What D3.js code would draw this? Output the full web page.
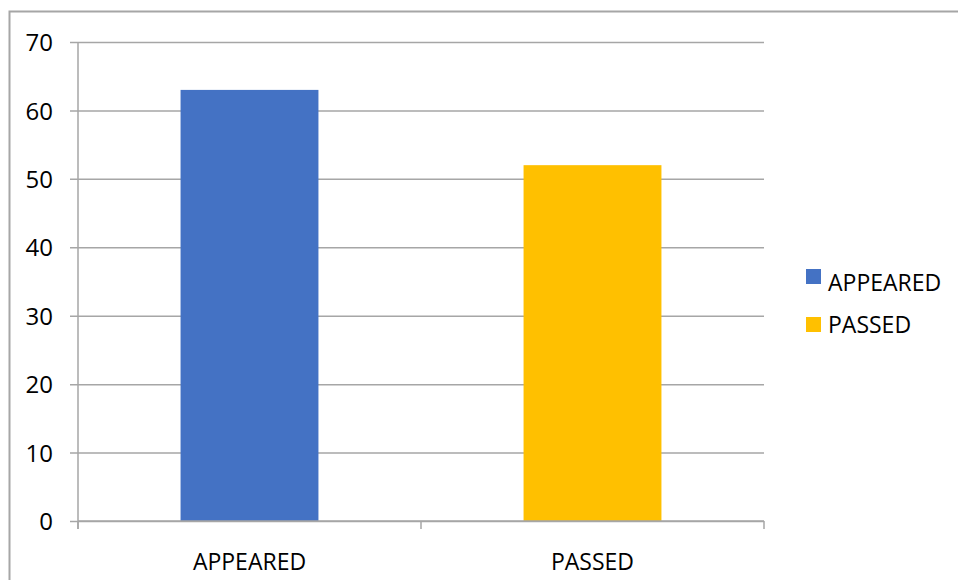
<!DOCTYPE html>
<html>
<head>
<meta charset="utf-8">
<script src="https://cdn.jsdelivr.net/npm/d3@7"></script>
<style>
  body { margin: 0; background: #fff; }
  svg { display: block; }
  text { font-family: 'Open Sans', 'Liberation Sans', sans-serif; fill: #000; }
</style>
</head>
<body>
<script>
// chart values
const categories = ['APPEARED', 'PASSED']
const values = [63, 52]
const colors = ['#4472c4', '#ffc000']
const yTicks = [0, 10, 20, 30, 40, 50, 60, 70]

const w = 958
const h = 580
const plotLeft = 78
const plotRight = 764
const plotTop = 42
const plotBottom = 521
const grey = '#a6a6a6'

const svg = d3.select('body').append('svg')
  .attr('width', w)
  .attr('height', h)

// outer frame (runs off the right and bottom edge)
svg.append('rect')
  .attr('x', 9.5)
  .attr('y', 11.5)
  .attr('width', w)
  .attr('height', h)
  .attr('fill', 'none')
  .attr('stroke', grey)
  .attr('stroke-width', 2)

const yScale = d3.scaleLinear()
  .domain([0, 70])
  .range([plotBottom, plotTop])

// category slots, used for tick boundaries and labels
const xSlots = d3.scaleBand()
  .domain(categories)
  .range([plotLeft, plotRight])

// bars are narrower than the slot
const xBars = d3.scaleBand()
  .domain(categories)
  .range([plotLeft, plotRight])
  .paddingInner(0.598)
  .paddingOuter(0.299)

// gridlines + y ticks
const yAxis = d3.axisLeft(yScale)
  .tickValues(yTicks)
  .tickSize(-(plotRight - plotLeft))
  .tickPadding(0)
  .tickFormat(d3.format('d'))

const gy = svg.append('g')
  .attr('transform', 'translate(' + plotLeft + ',0)')
  .call(yAxis)

gy.select('.domain').remove()
gy.selectAll('.tick line')
  .attr('x1', -8)
  .attr('stroke', grey)
  .attr('stroke-width', 1.5)
gy.selectAll('.tick text')
  .attr('x', -25)
  .attr('dy', '0.36em')
  .style('font-size', '24px')
  .style('font-family', "'Open Sans', sans-serif")
  .attr('fill', '#000')

// bars
svg.selectAll('rect.bar')
  .data(categories)
  .enter().append('rect')
  .attr('class', 'bar')
  .attr('x', d => xBars(d))
  .attr('width', xBars.bandwidth())
  .attr('y', (d, i) => yScale(values[i]))
  .attr('height', (d, i) => yScale(0) - yScale(values[i]))
  .attr('fill', (d, i) => colors[i])

// y axis line
svg.append('line')
  .attr('x1', plotLeft).attr('x2', plotLeft)
  .attr('y1', plotTop).attr('y2', plotBottom + 8)
  .attr('stroke', grey)
  .attr('stroke-width', 1.5)

// x axis line + boundary ticks
svg.append('line')
  .attr('x1', plotLeft).attr('x2', plotRight)
  .attr('y1', plotBottom).attr('y2', plotBottom)
  .attr('stroke', grey)
  .attr('stroke-width', 1.5)

const bounds = categories.map(c => xSlots(c)).concat([xSlots(categories[categories.length - 1]) + xSlots.bandwidth()])
svg.selectAll('line.xtick')
  .data(bounds)
  .enter().append('line')
  .attr('class', 'xtick')
  .attr('x1', d => d).attr('x2', d => d)
  .attr('y1', plotBottom).attr('y2', plotBottom + 8)
  .attr('stroke', grey)
  .attr('stroke-width', 1.5)

// x labels
svg.selectAll('text.xlabel')
  .data(categories)
  .enter().append('text')
  .attr('class', 'xlabel')
  .attr('x', d => xSlots(d) + xSlots.bandwidth() / 2)
  .attr('y', 570)
  .attr('text-anchor', 'middle')
  .style('font-size', '23px')
  .text(d => d)

// legend - swatches and labels don't share the same spacing in the original
svg.selectAll('rect.swatch')
  .data(categories)
  .enter().append('rect')
  .attr('class', 'swatch')
  .attr('x', 806)
  .attr('y', (d, i) => 269 + i * 48)
  .attr('width', 15)
  .attr('height', 15)
  .attr('fill', (d, i) => colors[i])

svg.selectAll('text.legend')
  .data(categories)
  .enter().append('text')
  .attr('class', 'legend')
  .attr('x', 828)
  .attr('y', (d, i) => 291 + i * 42)
  .style('font-size', '23px')
  .text(d => d)
</script>
</body>
</html>
